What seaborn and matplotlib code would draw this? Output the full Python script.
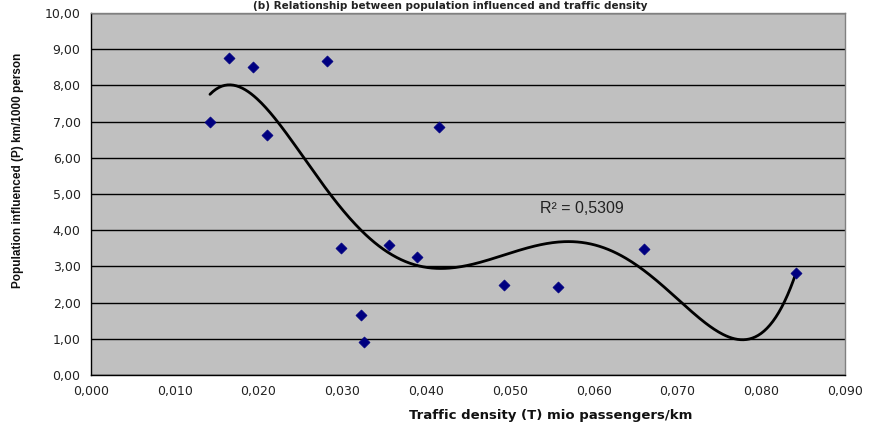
import numpy as np
import pandas as pd
import matplotlib
matplotlib.use("Agg")
import matplotlib.pyplot as plt
import seaborn as sns
from matplotlib.ticker import FuncFormatter, MultipleLocator

traffic_density = [0.0142, 0.0165, 0.0193, 0.0210, 0.0282, 0.0298, 0.0322, 0.0326,
                   0.0356, 0.0389, 0.0415, 0.0493, 0.0558, 0.0660, 0.0842]
population = [7.00, 8.75, 8.52, 6.63, 8.67, 3.52, 1.66, 0.92,
              3.58, 3.25, 6.86, 2.49, 2.44, 3.47, 2.81]
trend_degree = 5
r2_label = "R² = 0,5309"
title_text = "(b) Relationship between population influenced and traffic density"
x_label = "Traffic density (T) mio passengers/km"
y_label = "Population influenced (P) km/1000 person"

df = pd.DataFrame({"T": traffic_density, "P": population})

sns.set_style("white")
plt.rcParams["font.family"] = ["DejaVu Sans"]

fig = plt.figure(figsize=(8.75, 4.32), dpi=100)
ax = fig.add_axes([91/875, 1-375/432, (845-91)/875, (375-13)/432])
ax.set_facecolor("#C0C0C0")

poly = np.polynomial.Polynomial.fit(df["T"], df["P"], trend_degree)
xs = np.linspace(min(traffic_density), max(traffic_density), 400)
trend = pd.DataFrame({"T": xs, "P": poly(xs)})

ax.yaxis.grid(True, color="black", linewidth=1.0)
ax.set_axisbelow(True)
sns.lineplot(data=trend, x="T", y="P", ax=ax, color="black", linewidth=2.0, zorder=2)
sns.scatterplot(data=df, x="T", y="P", ax=ax, marker="D", s=32, color="#000080",
                edgecolor="#000080", zorder=3)

ax.set_xlim(0, 0.09)
ax.set_ylim(0, 10)
ax.xaxis.set_major_locator(MultipleLocator(0.01))
ax.yaxis.set_major_locator(MultipleLocator(1))
ax.xaxis.set_major_formatter(FuncFormatter(lambda v, _: f"{v:.3f}".replace(".", ",")))
ax.yaxis.set_major_formatter(FuncFormatter(lambda v, _: f"{v:.2f}".replace(".", ",")))
ax.tick_params(axis="both", labelsize=9, labelcolor="#222222", length=4, width=1,
               color="black", direction="out")
for s in ("left", "bottom"):
    ax.spines[s].set_color("black")
    ax.spines[s].set_linewidth(1.0)
for s in ("top", "right"):
    ax.spines[s].set_color("#808080")
    ax.spines[s].set_linewidth(1.0)

ax.set_xlabel(x_label, fontsize=9.5, fontweight="bold", color="#111111")
ax.xaxis.set_label_coords((551-91)/(845-91), -(409-375)/(375-13))
ax.set_ylabel(y_label, fontsize=8.5, fontweight="bold", color="#111111",
              family=["Liberation Sans"])
ax.yaxis.set_label_coords(-(91-24)/(845-91), (375-170)/(375-13))

ax.text(0.0586, 4.61, r2_label, fontsize=11.5, color="#222222", ha="center", va="center",
        family=["Liberation Sans"])

fig.text(450/875, 1-1/432, title_text, ha="center", va="top", fontsize=7.5,
         fontweight="bold", color="#222222")

fig.savefig("out.png", dpi=100)
